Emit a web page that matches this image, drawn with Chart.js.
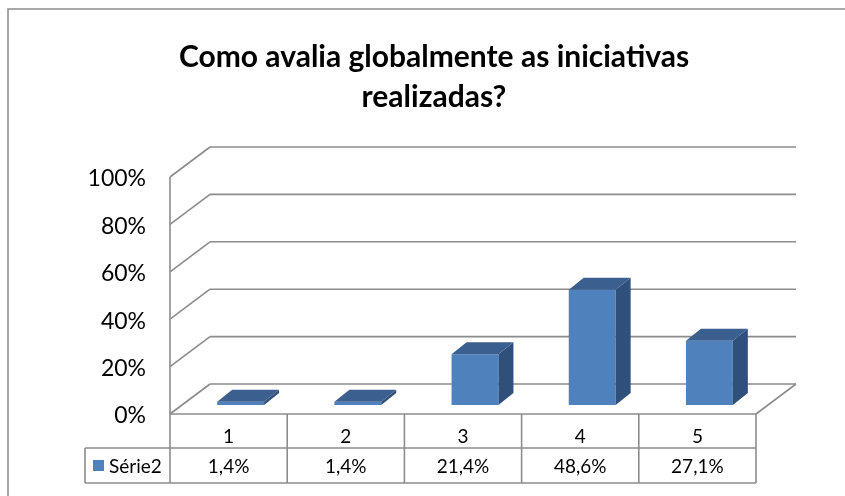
<!DOCTYPE html>
<html>
<head>
<meta charset="utf-8">
<script src="https://cdn.jsdelivr.net/npm/chart.js@4.4.1/dist/chart.umd.min.js"></script>
<style>
html,body{margin:0;padding:0;background:#fff;}
#wrap{width:845px;height:496px;}
</style>
</head>
<body>
<div id="wrap"><canvas id="evalChart" width="845" height="496"></canvas></div>
<script>
var titleLines=['Como avalia globalmente as iniciativas','realizadas?'];
var categories=['1','2','3','4','5'];
var seriesName='Série2';
var seriesValues=[1.4,1.4,21.4,48.6,27.1];
var tickValues=[0,20,40,60,80,100];

var FONT='Lato, "Open Sans", sans-serif';
var GRID='#8c8c8c';
var FRONT={dx:-12,dy:9};   // bar plane -> front edge of the floor
var BACK={dx:28,dy:-21};   // bar plane -> back wall
var BAR_DEPTH={dx:15,dy:-12};

function fmtPct(v){return v.toFixed(1).replace('.',',')+'%';}

function line(ctx,x1,y1,x2,y2){ctx.beginPath();ctx.moveTo(x1,y1);ctx.lineTo(x2,y2);ctx.stroke();}

var box3d={
  id:'box3d',
  beforeDraw:function(chart){
    var ctx=chart.ctx;
    ctx.save();
    ctx.fillStyle='#fff';ctx.fillRect(0,0,chart.width,chart.height);
    ctx.strokeStyle='#8c8c8c';ctx.lineWidth=1.5;
    ctx.strokeRect(8,9,chart.width+20,chart.height+20);
    // title
    ctx.fillStyle='#000';ctx.textAlign='center';ctx.textBaseline='middle';
    ctx.font='bold 30px '+FONT;
    ctx.fillText(titleLines[0],434,57);
    ctx.fillText(titleLines[1],434,97);
    ctx.restore();
  },
  beforeDatasetsDraw:function(chart){
    var ctx=chart.ctx,ys=chart.scales.y,ca=chart.chartArea;
    var fl=ca.left+FRONT.dx,fr=ca.right+FRONT.dx;
    var bl=ca.left+BACK.dx,br=ca.right+BACK.dx;
    ctx.save();
    ctx.strokeStyle=GRID;ctx.lineWidth=1.6;
    tickValues.forEach(function(t){
      var y=ys.getPixelForValue(t);
      line(ctx,bl,y+BACK.dy,br,y+BACK.dy);
      line(ctx,fl,y+FRONT.dy,bl,y+BACK.dy);
    });
    var y0=ys.getPixelForValue(0),yTop=ys.getPixelForValue(100);
    line(ctx,fl,yTop+FRONT.dy,fl,y0+FRONT.dy);
    line(ctx,fl,y0+FRONT.dy,fr,y0+FRONT.dy);
    line(ctx,fr,y0+FRONT.dy,br,y0+BACK.dy);
    // tick labels
    ctx.fillStyle='#000';ctx.font='23px '+FONT;ctx.textAlign='right';ctx.textBaseline='middle';
    tickValues.forEach(function(t){
      ctx.fillText(t+'%',146,ys.getPixelForValue(t)+FRONT.dy+2);
    });
    ctx.restore();
  },
  afterDatasetsDraw:function(chart){
    var ctx=chart.ctx,meta=chart.getDatasetMeta(0);
    ctx.save();
    meta.data.forEach(function(bar){
      var p=bar.getProps(['x','y','base','width']);
      var l=p.x-p.width/2,r=p.x+p.width/2,t=p.y,b=p.base,dx=BAR_DEPTH.dx,dy=BAR_DEPTH.dy;
      ctx.fillStyle='#30507c';
      ctx.beginPath();ctx.moveTo(r,t);ctx.lineTo(r+dx,t+dy);ctx.lineTo(r+dx,b+dy);ctx.lineTo(r,b);ctx.closePath();ctx.fill();
      ctx.fillStyle='#3b5f8f';
      ctx.beginPath();ctx.moveTo(l,t);ctx.lineTo(l+dx,t+dy);ctx.lineTo(r+dx,t+dy);ctx.lineTo(r,t);ctx.closePath();ctx.fill();
    });
    ctx.restore();
  },
  afterDraw:function(chart){
    // data table under the floor
    var ctx=chart.ctx,xs=chart.scales.x,ys=chart.scales.y,ca=chart.chartArea;
    var top=ys.getPixelForValue(0)+FRONT.dy,mid=top+34,bot=mid+35;
    var fl=ca.left+FRONT.dx,fr=ca.right+FRONT.dx,legL=85;
    var colW=(fr-fl)/categories.length;
    ctx.save();
    ctx.strokeStyle=GRID;ctx.lineWidth=1.6;
    line(ctx,legL,mid,fr,mid);
    line(ctx,legL,bot,fr,bot);
    line(ctx,legL,mid,legL,bot);
    for(var i=0;i<=categories.length;i++){
      line(ctx,fl+i*colW,top,fl+i*colW,bot);
    }
    ctx.fillStyle='#000';ctx.font='19px '+FONT;ctx.textAlign='center';ctx.textBaseline='middle';
    categories.forEach(function(c,i){
      var cx=xs.getPixelForValue(i)+FRONT.dx;
      ctx.fillText(c,cx,mid-11);
      ctx.fillText(fmtPct(seriesValues[i]),cx,(mid+bot)/2+1);
    });
    ctx.fillStyle='#4f81bd';ctx.fillRect(93,460,11,11);
    ctx.fillStyle='#000';ctx.textAlign='left';
    ctx.fillText(seriesName,109,(mid+bot)/2+1);
    ctx.restore();
  }
};

new Chart(document.getElementById('evalChart').getContext('2d'),{
  type:'bar',
  data:{labels:categories,datasets:[{label:seriesName,data:seriesValues,backgroundColor:'#4f81bd',borderWidth:0,barPercentage:0.4,categoryPercentage:1}]},
  options:{
    responsive:false,animation:false,
    layout:{padding:{left:182,top:168,right:77,bottom:91}},
    plugins:{legend:{display:false},tooltip:{enabled:false},title:{display:false}},
    scales:{
      x:{display:false,offset:true},
      y:{display:false,min:0,max:100,ticks:{stepSize:20}}
    }
  },
  plugins:[box3d]
});
</script>
</body>
</html>
